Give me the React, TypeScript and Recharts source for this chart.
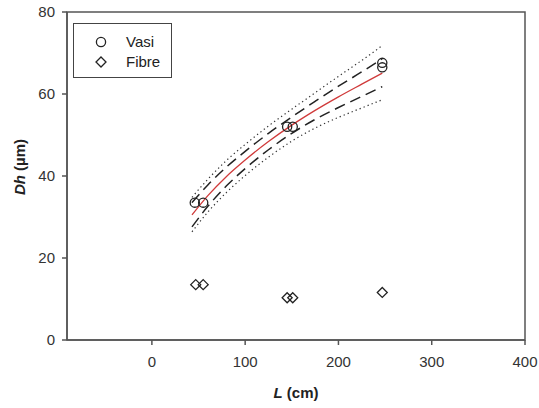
import React from "react";
import {
  ComposedChart,
  XAxis,
  YAxis,
  Line,
  Scatter,
  ReferenceArea,
  Label,
} from "recharts";

// Observed points
const vasiL = [46, 55, 145, 151, 247, 247];
const vasiDh = [33.5, 33.5, 52.0, 52.0, 67.6, 66.5];
const fibreL = [47, 55, 145, 151, 247];
const fibreDh = [13.5, 13.5, 10.3, 10.3, 11.6];

// Fitted curve and bands
const curveL = [43, 60, 80, 100, 125, 150, 175, 200, 225, 247];
const fitDh = [30.5, 35.2, 39.9, 43.9, 48.4, 52.4, 56.0, 59.3, 62.4, 65.1];
const ciUpper = [33.5, 37.8, 42.2, 46.0, 50.4, 54.4, 58.2, 61.9, 65.4, 68.6];
const ciLower = [27.6, 32.6, 37.6, 41.8, 46.4, 50.4, 53.8, 56.7, 59.4, 61.8];
const piUpper = [34.8, 39.2, 43.8, 47.7, 52.2, 56.3, 60.3, 64.3, 68.2, 71.8];
const piLower = [26.4, 31.2, 36.0, 40.1, 44.6, 48.5, 51.7, 54.3, 56.6, 58.6];

const xTicks = [0, 100, 200, 300, 400];
const yTicks = [0, 20, 40, 60, 80];
const xDomain = [-91, 400];
const yDomain = [0, 80];

const seriesNames = ["Vasi", "Fibre"];

const vasiData = vasiL.map((L, i) => ({ L, Dh: vasiDh[i] }));
const fibreData = fibreL.map((L, i) => ({ L, Dh: fibreDh[i] }));
const curveData = curveL.map((L, i) => ({
  L,
  fit: fitDh[i],
  ciU: ciUpper[i],
  ciL: ciLower[i],
  piU: piUpper[i],
  piL: piLower[i],
}));

const FONT = "'Liberation Sans', Arial, sans-serif";
const AXIS = "#555";
const MARK = "#222";

const CircleShape = (p: any) => (
  <circle cx={p.cx} cy={p.cy} r={4.6} fill="none" stroke={MARK} strokeWidth={1.3} />
);
const DiamondShape = (p: any) => {
  const r = 5;
  return (
    <path
      d={`M${p.cx},${p.cy - r}L${p.cx + r},${p.cy}L${p.cx},${p.cy + r}L${p.cx - r},${p.cy}Z`}
      fill="none"
      stroke={MARK}
      strokeWidth={1.3}
    />
  );
};

const LegendBox = () => (
  <div
    style={{
      position: "absolute",
      left: 73,
      top: 23,
      border: "1.5px solid #444",
      width: 97,
      height: 53,
      boxSizing: "content-box",
      fontFamily: FONT,
      fontSize: 15,
      color: "#222",
      background: "#fff",
    }}
  >
    {seriesNames.map((n, i) => (
      <div key={n} style={{ position: "relative", height: 20, marginTop: i === 0 ? 8 : 0 }}>
        <svg width={20} height={20} style={{ position: "absolute", left: 17, top: 0 }}>
          {i === 0 ? (
            <circle cx={10} cy={10} r={4.6} fill="none" stroke={MARK} strokeWidth={1.3} />
          ) : (
            <path d="M10,5L15,10L10,15L5,10Z" fill="none" stroke={MARK} strokeWidth={1.3} />
          )}
        </svg>
        <span style={{ position: "absolute", left: 52, top: 1, lineHeight: "18px" }}>{n}</span>
      </div>
    ))}
  </div>
);

const XLabel = (props: any) => {
  const vb = props.viewBox || {};
  return (
    <text
      x={vb.x + vb.width / 2}
      y={vb.y + 58}
      textAnchor="middle"
      fontFamily={FONT}
      fontSize={15}
      fontWeight="bold"
      fill="#222"
    >
      <tspan fontStyle="italic">L</tspan>
      <tspan> (cm)</tspan>
    </text>
  );
};

const YLabel = (props: any) => {
  const vb = props.viewBox || {};
  const cx = vb.x + 25;
  const cy = vb.y + vb.height / 2 - 9;
  return (
    <text
      x={cx}
      y={cy}
      transform={`rotate(-90, ${cx}, ${cy})`}
      textAnchor="middle"
      fontFamily={FONT}
      fontSize={15}
      fontWeight="bold"
      fill="#222"
    >
      <tspan fontStyle="italic">Dh</tspan>
      <tspan> (µm)</tspan>
    </text>
  );
};

export default function App() {
  return (
    <div style={{ position: "absolute", left: 0, top: 0, width: 539, height: 408, background: "#fff" }}>
      <ComposedChart
        width={539}
        height={408}
        margin={{ top: 12, right: 14, left: 0, bottom: 0 }}
      >
        <XAxis
          type="number"
          dataKey="L"
          domain={xDomain}
          ticks={xTicks}
          allowDataOverflow
          height={68}
          stroke={AXIS}
          strokeWidth={1.5}
          tickSize={5}
          tickMargin={11}
          tick={{ fontFamily: FONT, fontSize: 15, fill: "#333" }}
          tickLine={{ stroke: AXIS, strokeWidth: 1.5 }}
        >
          <Label content={<XLabel />} />
        </XAxis>
        <YAxis
          type="number"
          domain={yDomain}
          ticks={yTicks}
          allowDataOverflow
          width={67}
          stroke={AXIS}
          strokeWidth={1.5}
          tickSize={5}
          tickMargin={7}
          tick={{ fontFamily: FONT, fontSize: 15, fill: "#333" }}
          tickLine={{ stroke: AXIS, strokeWidth: 1.5 }}
        >
          <Label content={<YLabel />} />
        </YAxis>
        <ReferenceArea
          x1={xDomain[0]}
          x2={xDomain[1]}
          y1={yDomain[0]}
          y2={yDomain[1]}
          fill="none"
          stroke={AXIS}
          strokeWidth={1.5}
        />
        <Line
          data={curveData}
          dataKey="piU"
          type="monotone"
          stroke="#333"
          strokeWidth={1.2}
          strokeDasharray="1.3 3"
          dot={false}
          isAnimationActive={false}
          legendType="none"
        />
        <Line
          data={curveData}
          dataKey="piL"
          type="monotone"
          stroke="#333"
          strokeWidth={1.2}
          strokeDasharray="1.3 3"
          dot={false}
          isAnimationActive={false}
          legendType="none"
        />
        <Line
          data={curveData}
          dataKey="ciU"
          type="monotone"
          stroke="#222"
          strokeWidth={1.5}
          strokeDasharray="11 6"
          dot={false}
          isAnimationActive={false}
          legendType="none"
        />
        <Line
          data={curveData}
          dataKey="ciL"
          type="monotone"
          stroke="#222"
          strokeWidth={1.5}
          strokeDasharray="11 6"
          dot={false}
          isAnimationActive={false}
          legendType="none"
        />
        <Line
          data={curveData}
          dataKey="fit"
          type="monotone"
          stroke="#d03a3a"
          strokeWidth={1.3}
          dot={false}
          isAnimationActive={false}
          legendType="none"
        />
        <Scatter
          name={seriesNames[0]}
          data={vasiData}
          dataKey="Dh"
          shape={CircleShape}
          isAnimationActive={false}
        />
        <Scatter
          name={seriesNames[1]}
          data={fibreData}
          dataKey="Dh"
          shape={DiamondShape}
          isAnimationActive={false}
        />
      </ComposedChart>
      <LegendBox />
    </div>
  );
}
